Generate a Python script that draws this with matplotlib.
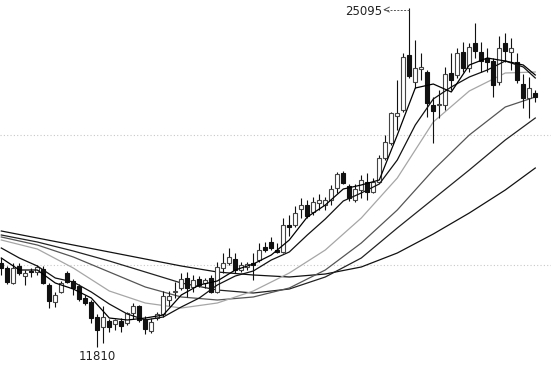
import matplotlib
matplotlib.use("Agg")
import matplotlib.pyplot as plt
import numpy as np

# daily OHLC, 90 sessions
opens = [15100, 14904, 14316, 14983, 14591, 14787, 14748, 14865, 14238, 13572,
         13964, 14708, 14395, 14199, 13728, 13572, 12984, 12592, 12827, 12709,
         12827, 12748, 13140, 13415, 12905, 12435, 12944, 13101, 13650, 13964,
         14120, 14512, 14160, 14473, 14316, 14512, 13964, 14904, 15100, 15257,
         14826, 14944, 15100, 15218, 15728, 15924, 15610, 15532, 16590, 16590,
         17217, 17374, 17100, 17452, 17374, 17570, 18040, 18628, 18119, 17570,
         17962, 18276, 17884, 18276, 19216, 19804, 20863, 21098, 23254, 22196,
         22705, 22588, 21294, 21294, 21294, 22548, 22470, 23372, 22744, 23724,
         23372, 23136, 23019, 22196, 23724, 23372, 22980, 22117, 21568, 21764]
highs = [15296, 14983, 15100, 15100, 14826, 14904, 15022, 14983, 14316, 13964,
         14395, 14787, 14473, 14277, 13846, 13650, 13101, 13415, 12905, 12905,
         12944, 13180, 13532, 13454, 13023, 12944, 13180, 14003, 14003, 14356,
         14708, 14748, 14630, 14591, 14512, 14630, 15140, 15492, 15688, 15492,
         15140, 15140, 15492, 15884, 15924, 16120, 15884, 16864, 16982, 17335,
         17648, 17570, 17688, 17805, 17688, 18158, 18668, 18707, 18197, 18197,
         18550, 18628, 18432, 19334, 20118, 21020, 22274, 23332, 25095, 23842,
         23332, 22666, 21608, 21882, 22784, 23332, 23528, 23764, 23724, 24508,
         23764, 23528, 23136, 23999, 24116, 23920, 23332, 22509, 22392, 21882]
lows = [14630, 14277, 14277, 14630, 14238, 14552, 14630, 14277, 13336, 13376,
        13924, 14316, 13846, 13611, 13454, 12748, 11810, 11964, 12396, 12474,
        12396, 12670, 12905, 12788, 12317, 12356, 12866, 12984, 13415, 13728,
        14042, 13768, 13964, 14160, 14120, 13924, 13924, 14708, 15022, 14708,
        14748, 14826, 14434, 15140, 15532, 15610, 15492, 15492, 16159, 16512,
        16864, 16864, 16982, 17178, 17178, 17374, 17844, 18197, 17531, 17492,
        17648, 17570, 17844, 18236, 19138, 19726, 20314, 21020, 22352, 21960,
        22274, 20824, 19804, 20784, 21098, 21882, 22352, 22588, 22588, 23136,
        22588, 22588, 21608, 22078, 22980, 22666, 22156, 21176, 20784, 21412]
closes = [14904, 14356, 14904, 14708, 14708, 14748, 14944, 14316, 13611, 13846,
          14316, 14356, 14120, 13689, 13532, 12944, 12474, 12984, 12592, 12866,
          12631, 13140, 13415, 12866, 12513, 12788, 13101, 13807, 13807, 14003,
          14473, 14120, 14434, 14238, 14434, 13964, 14944, 15100, 15336, 14826,
          15022, 15061, 15022, 15610, 15610, 15688, 15532, 16590, 16512, 17060,
          17374, 16943, 17492, 17570, 17570, 18001, 18589, 18236, 17648, 18001,
          18354, 17884, 18276, 19216, 19844, 20980, 20980, 23176, 22431, 22744,
          22784, 21372, 21059, 21333, 22509, 22274, 23332, 22744, 23568, 23411,
          23019, 22980, 22078, 23528, 23411, 23528, 22274, 21568, 21960, 21608]

# moving averages
ma_short_idx = [0, 3, 6, 9, 12, 15, 18, 21, 24, 27, 30, 33, 36, 39, 42, 45,
                48, 51, 54, 57, 60, 63, 66, 69, 72, 75, 78, 81, 84, 87, 89]
ma5 = [15296, 14826, 14826, 14316, 14081, 13728, 12944, 12866, 12944, 13062,
       13846, 14238, 14395, 14826, 15061, 15414, 16002, 16904, 17374, 18001,
       18158, 18354, 20118, 21960, 22117, 21804, 22862, 23136, 23019, 22862, 22470]
ma10 = [15688, 15296, 14983, 14512, 14356, 13964, 13493, 13101, 12866, 12984,
        13376, 13728, 14238, 14591, 14787, 15218, 15532, 16198, 16825, 17531,
        17844, 18197, 19138, 20510, 21529, 22000, 22392, 22666, 23019, 22784, 22352]

ma_long_idx = [0, 6, 12, 18, 24, 30, 36, 42, 48, 54, 60, 66, 72, 78, 84, 89]
ma20 = [16002, 15649, 14904, 14003, 13532, 13336, 13532, 14003, 14708, 15610,
        16864, 18432, 20628, 21843, 22548, 22588]
ma30 = [16120, 15806, 15336, 14748, 14160, 13768, 13650, 13768, 14120, 14826,
        15884, 17178, 18746, 20118, 21216, 21608]
ma60 = [16198, 15924, 15571, 15179, 14748, 14316, 14042, 13924, 14081, 14552,
        15296, 16472, 17609, 18746, 19922, 20784]
ma120 = [16355, 16080, 15806, 15532, 15257, 14983, 14748, 14630, 14552, 14669,
         14944, 15492, 16237, 17060, 17962, 18824]

grid_levels = [20118, 15022]
hi_label = "25095"
lo_label = "11810"

fig = plt.figure(figsize=(5.51, 3.65), dpi=100)
ax = fig.add_axes([0, 0, 1, 1])

x = np.arange(len(closes))
o = np.array(opens); c = np.array(closes)
up = c >= o

for g in grid_levels:
    ax.axhline(g, color="#c8c8c8", lw=0.8, ls=(0, (1, 2)), zorder=0)

ax.plot(ma_long_idx, ma120, color="#111111", lw=0.9, zorder=1)
ax.plot(ma_long_idx, ma60, color="#222222", lw=0.9, zorder=1)
ax.plot(ma_long_idx, ma30, color="#555555", lw=0.9, zorder=1)
ax.plot(ma_long_idx, ma20, color="#a6a6a6", lw=0.9, zorder=1)

ax.vlines(x, lows, highs, color="#111111", lw=0.8, zorder=2)
w = 0.7
ax.bar(x[up], (c - o)[up], bottom=o[up], width=w, color="white",
       edgecolor="#444444", linewidth=0.8, zorder=3)
ax.bar(x[~up], (o - c)[~up], bottom=c[~up], width=w, color="#111111",
       edgecolor="#111111", linewidth=0.8, zorder=3)

ax.plot(ma_short_idx, ma10, color="#111111", lw=0.9, zorder=4)
ax.plot(ma_short_idx, ma5, color="#000000", lw=0.9, zorder=4)

# max / min markers
imax = int(np.argmax(highs))
imin = int(np.argmin(lows))
y_arrow = highs[imax] - 60
ax.plot([imax - 0.1, imax - 4.2], [y_arrow, y_arrow], color="#555555",
        lw=0.7, dashes=(2, 1.5), zorder=5)
ax.annotate("", xy=(imax - 4.3, y_arrow), xytext=(imax - 3.6, y_arrow),
            arrowprops=dict(arrowstyle="->,head_length=0.35,head_width=0.18",
                            color="#555555", lw=0.7))
ax.text(imax - 4.5, y_arrow - 60, hi_label, ha="right", va="center",
        fontsize=8.5, color="#222222")
ax.text(imin, lows[imin] - 120, lo_label, ha="center", va="top",
        fontsize=8.5, color="#222222")

ax.set_xlim(-0.217, 91.62)
ax.set_ylim(11102, 25410)
ax.axis("off")

fig.savefig("out.png", dpi=100, facecolor="white")
